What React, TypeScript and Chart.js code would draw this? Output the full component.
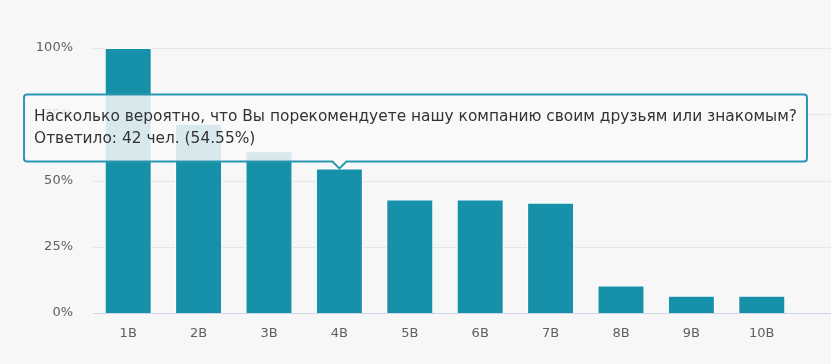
import React, { useEffect, useRef } from 'react';
import { Chart, registerables } from 'chart.js';

Chart.register(...registerables);

const categories = ['1В', '2В', '3В', '4В', '5В', '6В', '7В', '8В', '9В', '10В'];
const respondents = [77, 55, 47, 42, 33, 33, 32, 8, 5, 5];
const percents = [100, 71.43, 61.04, 54.55, 42.86, 42.86, 41.56, 10.39, 6.49, 6.49];
const yTicks = [0, 25, 50, 75, 100];
const question = 'Насколько вероятно, что Вы порекомендуете нашу компанию своим друзьям или знакомым?';
const activeIndex = 3;

const FONT = "'DejaVu Sans', sans-serif";

const fullGridPlugin = {
  id: 'fullGrid',
  beforeDatasetsDraw(chart: any) {
    const { ctx, chartArea, scales } = chart;
    const y = scales.y;
    ctx.save();
    ctx.lineWidth = 1;
    yTicks.forEach((v) => {
      const py = Math.round(y.getPixelForValue(v)) + 0.5;
      ctx.strokeStyle = v === 0 ? '#ccd6eb' : '#e6e6e6';
      ctx.beginPath();
      ctx.moveTo(chartArea.left, py);
      ctx.lineTo(chart.width, py);
      ctx.stroke();
    });
    ctx.restore();
  },
};

const centerTooltipPlugin = {
  id: 'centerTooltip',
  beforeTooltipDraw(chart: any, args: any) {
    const t = args.tooltip;
    t.x = (chart.width - t.width) / 2;
  },
};

export default function App() {
  const ref = useRef<HTMLCanvasElement | null>(null);

  useEffect(() => {
    if (!ref.current) return;
    const chart = new Chart(ref.current, {
      type: 'bar',
      data: {
        labels: categories,
        datasets: [
          {
            data: percents,
            backgroundColor: '#1790aa',
            borderColor: '#ffffff',
            borderWidth: 1,
            barPercentage: 0.667,
            categoryPercentage: 1,
          },
        ],
      },
      options: {
        responsive: false,
        animation: false,
        events: [],
        layout: { padding: { top: 48, right: 34, left: 0, bottom: 0 } },
        plugins: {
          legend: { display: false },
          title: { display: false },
          tooltip: {
            enabled: true,
            position: 'average',
            xAlign: 'center',
            yAlign: 'bottom',
            backgroundColor: 'rgba(249,249,249,0.85)',
            borderColor: '#2a97b0',
            borderWidth: 2,
            cornerRadius: 3,
            caretSize: 7,
            caretPadding: 0,
            displayColors: false,
            titleColor: '#333333',
            bodyColor: '#333333',
            titleFont: { family: FONT, size: 15.4, weight: 'normal' },
            bodyFont: { family: FONT, size: 15.4, weight: 'normal' },
            titleMarginBottom: 4,
            padding: { top: 13, bottom: 13, left: 10, right: 10 },
            callbacks: {
              title: () => question,
              label: (item: any) =>
                `Ответило: ${respondents[item.dataIndex]} чел. (${percents[item.dataIndex].toFixed(2)}%)`,
            },
          },
        },
        scales: {
          x: {
            grid: { display: false, drawTicks: false },
            border: { display: false },
            ticks: {
              color: '#606060',
              font: { family: FONT, size: 13 },
              padding: 13,
            },
            afterFit: (s: any) => {
              s.height = 51;
            },
          },
          y: {
            min: 0,
            max: 100,
            grid: { display: false, drawTicks: false },
            border: { display: false },
            ticks: {
              stepSize: 25,
              color: '#606060',
              font: { family: FONT, size: 13 },
              padding: 20,
              callback: (v: any) => `${v}%`,
            },
            afterFit: (s: any) => {
              s.width = 93;
            },
          },
        },
      },
      plugins: [fullGridPlugin, centerTooltipPlugin],
    });
    const meta = chart.getDatasetMeta(0);
    const el: any = meta.data[activeIndex];
    chart.tooltip?.setActiveElements([{ datasetIndex: 0, index: activeIndex }], { x: el.x, y: el.y });
    chart.update();
    return () => chart.destroy();
  }, []);

  return (
    <div style={{ position: 'absolute', left: 0, top: 0, width: 831, height: 364, background: '#f7f7f7' }}>
      <canvas ref={ref} width={831} height={364} style={{ display: 'block' }} />
    </div>
  );
}
